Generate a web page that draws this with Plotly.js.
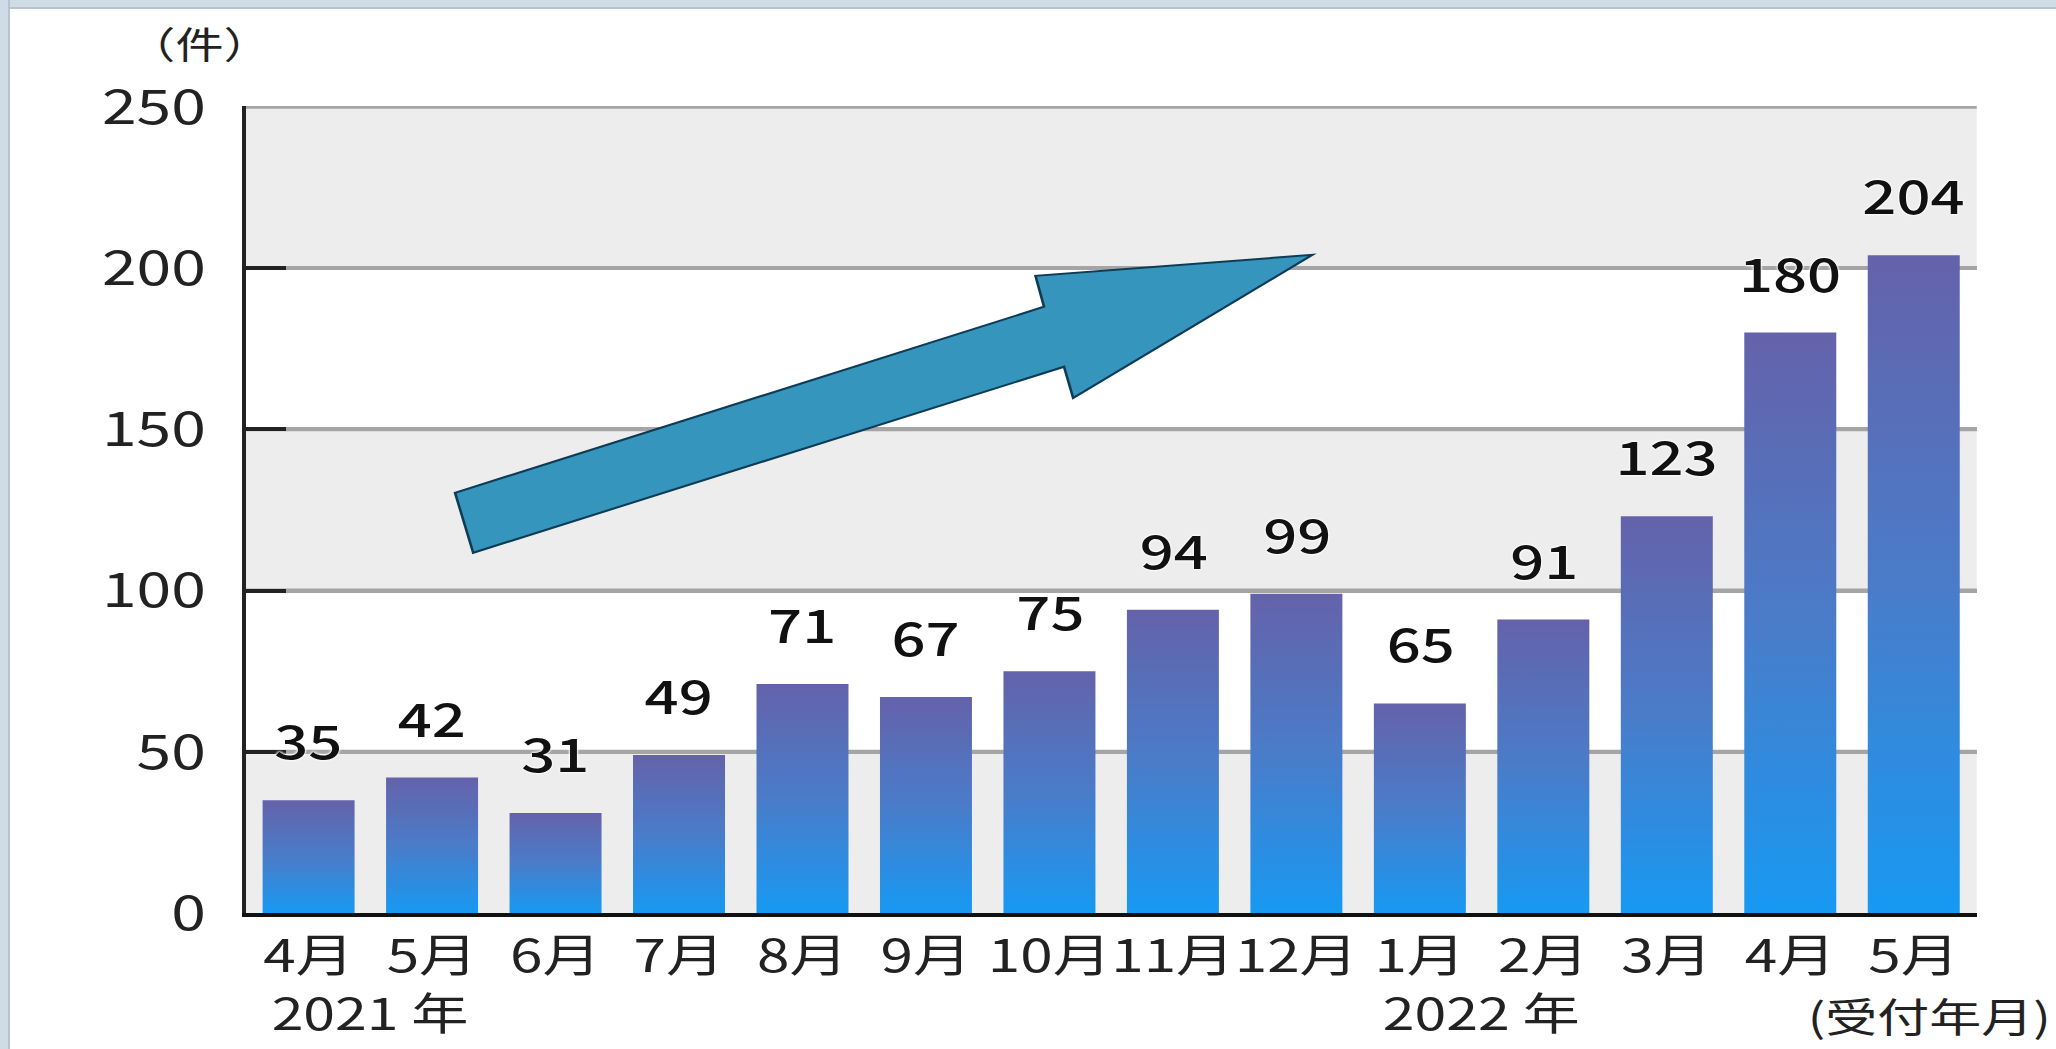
<!DOCTYPE html>
<html>
<head>
<meta charset="utf-8">
<script src="https://cdn.plot.ly/plotly-3.0.1.min.js"></script>
<style>
  html, body { margin: 0; padding: 0; background: #ffffff; overflow: hidden; }
  #wrap { position: relative; width: 2056px; height: 1049px; overflow: hidden; background: #fff; }
  #chart { position: absolute; left: 0; top: 0; width: 1582px; height: 1049px;
           transform: scaleX(1.29962); transform-origin: 0 0; }
  #bTop { position: absolute; left: 0; top: 0; width: 2056px; height: 7px; background: #cfdbe6;
          border-bottom: 2px solid #b9c2cb; z-index: 5; }
  #bLeft { position: absolute; left: 0; top: 0; width: 8px; height: 1049px; background: #cfdbe6;
           border-right: 2px solid #b9c2cb; z-index: 5; }
</style>
</head>
<body>
<div id="wrap">
  <div id="chart"></div>
  <div id="bTop"></div>
  <div id="bLeft"></div>
</div>
<script>
// ---- data ----
const categories = ['4月','5月','6月','7月','8月','9月','10月','11月','12月','1月','2月','3月','4月','5月'];
const counts = [35, 42, 31, 49, 71, 67, 75, 94, 99, 65, 91, 123, 180, 204];
const yTicks = [0, 50, 100, 150, 200, 250];
const yearLabels = ['2021 年', '2022 年'];
const yearAt = [0.5, 9.5];
const unitLabel = '（件）';
const axisNote = '(受付年月)';
const shadedBands = [[0, 50], [100, 150], [200, 250]];
// trend arrow outline (data coordinates)
const arrowPts = [[1.333, 111.7], [1.186, 130.3], [5.956, 188.0], [5.887, 197.6],
                  [8.130, 204.1], [6.192, 159.7], [6.118, 169.4]];

const FONT = '"Noto Sans CJK JP", "Noto Sans", sans-serif';
const idx = categories.map((_, i) => i);

const trace = {
  type: 'bar',
  x: idx,
  y: counts,
  marker: { color: '#3f7fd0', line: { width: 0 } },
  hoverinfo: 'skip'
};

const shapes = shadedBands.map(b => ({
  type: 'rect', xref: 'paper', yref: 'y', x0: 0, x1: 1, y0: b[0], y1: b[1],
  fillcolor: '#ededed', line: { width: 0 }, layer: 'below'
}));
// horizontal rules on top of the shaded bands
yTicks.filter(v => v > 0).forEach(v => shapes.push({
  type: 'line', xref: 'paper', yref: 'y', x0: 0, x1: 1, y0: v, y1: v,
  line: { color: '#a5a5a5', width: 4 }, layer: 'below'
}));
shapes.push({
  type: 'path', xref: 'x', yref: 'y', layer: 'above',
  path: 'M ' + arrowPts.map(p => p[0] + ',' + p[1]).join(' L ') + ' Z',
  fillcolor: '#3595bc', line: { color: '#0e3b55', width: 2 }
});

const labelFont = { family: FONT, size: 46, color: '#111', weight: 500,
                    shadow: '0 0 3px #fff, 0 0 3px #fff, 0 0 2px #fff' };
const annotations = counts.map((v, i) => ({
  x: i, y: v, xref: 'x', yref: 'y', text: String(v), showarrow: false,
  xanchor: 'center', yanchor: 'bottom', yshift: 26, font: labelFont
}));
annotations.push({
  x: -0.027, y: 1.078, xref: 'paper', yref: 'paper', text: unitLabel, showarrow: false,
  xanchor: 'center', yanchor: 'middle', font: { family: FONT, size: 37, color: '#222' }
});
yearLabels.forEach((t, k) => annotations.push({
  x: yearAt[k], y: -0.121, xref: 'x', yref: 'paper', text: t, showarrow: false,
  xanchor: 'center', yanchor: 'middle', font: { family: FONT, size: 44, color: '#222' }
}));
annotations.push({
  x: 13.13, y: -0.126, xref: 'x', yref: 'paper', text: axisNote, showarrow: false,
  xanchor: 'center', yanchor: 'middle', font: { family: FONT, size: 40, color: '#222' }
});

const layout = {
  width: 1582, height: 1049,
  margin: { l: 189, r: 61, t: 106, b: 136 },
  paper_bgcolor: '#ffffff', plot_bgcolor: '#ffffff',
  showlegend: false,
  bargap: 0.255,
  font: { family: FONT, color: '#222' },
  xaxis: {
    range: [-0.51, 13.51], tickmode: 'array', tickvals: idx, ticktext: categories,
    tickangle: 0, showgrid: false, zeroline: false, showline: true,
    linecolor: '#111', linewidth: 4, ticks: '',
    tickfont: { family: FONT, size: 45, color: '#222' }, ticklabelstandoff: 1
  },
  yaxis: {
    range: [0, 250.25], tickmode: 'array', tickvals: yTicks,
    showgrid: true, gridcolor: '#a5a5a5', gridwidth: 4, zeroline: false,
    showline: true, linecolor: '#222', linewidth: 3,
    ticks: 'inside', ticklen: 31, tickwidth: 4, tickcolor: '#222',
    tickfont: { family: FONT, size: 48, color: '#222' }, ticklabelstandoff: 18
  },
  shapes: shapes,
  annotations: annotations
};

Plotly.newPlot('chart', [trace], layout, { staticPlot: true, displayModeBar: false }).then(gd => {
  const svg = gd.querySelector('.main-svg');
  const ns = 'http://www.w3.org/2000/svg';
  let defs = svg.querySelector('defs');
  if (!defs) { defs = document.createElementNS(ns, 'defs'); svg.insertBefore(defs, svg.firstChild); }
  const g = document.createElementNS(ns, 'linearGradient');
  g.setAttribute('id', 'barGrad');
  g.setAttribute('x1', '0'); g.setAttribute('y1', '0');
  g.setAttribute('x2', '0'); g.setAttribute('y2', '1');
  [['0%', '#6462aa'], ['50%', '#4a7cc9'], ['100%', '#1799f2']].forEach(s => {
    const st = document.createElementNS(ns, 'stop');
    st.setAttribute('offset', s[0]); st.setAttribute('stop-color', s[1]);
    g.appendChild(st);
  });
  defs.appendChild(g);
  gd.querySelectorAll('.barlayer .point path').forEach(p => { p.style.fill = 'url(#barGrad)'; });
});
</script>
</body>
</html>
